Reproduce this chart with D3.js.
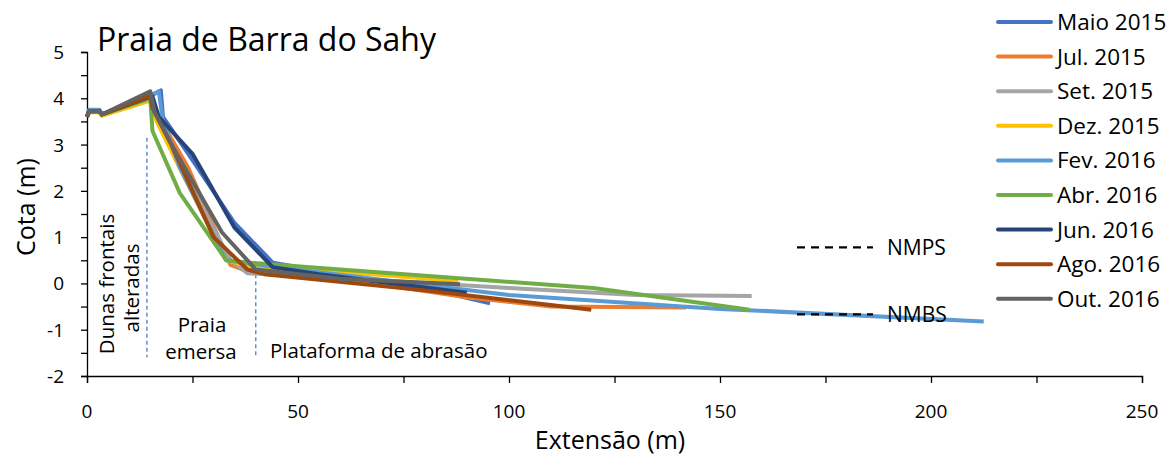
<!DOCTYPE html>
<html>
<head>
<meta charset="utf-8">
<script src="https://cdn.jsdelivr.net/npm/d3@7"></script>
<style>
  body { margin: 0; background: #fff; }
  svg text { font-family: "Open Sans", sans-serif; fill: #000; }
</style>
</head>
<body>
<div id="chart"></div>
<script>
// series names and colours
const seriesNames = ["Maio 2015", "Jul. 2015", "Set. 2015", "Dez. 2015", "Fev. 2016", "Abr. 2016", "Jun. 2016", "Ago. 2016", "Out. 2016"];
const seriesColors = ["#4472C4", "#ED7D31", "#A5A5A5", "#FFC000", "#5B9BD5", "#70AD47", "#264478", "#9E480E", "#636363"];

// profiles: [extensao, cota]
const maio2015 = [[0,3.6],[0.5,3.72],[3,3.72],[3.5,3.65],[16,4.1],[17.5,4.17],[18,3.6],[24,2.8],[35,1.3],[44,0.45],[60,0.2],[80,-0.1],[95.5,-0.43]];
const jul2015 = [[0,3.6],[0.5,3.72],[3,3.72],[3.5,3.65],[15,4.0],[17,3.6],[24,2.5],[34,0.4],[37,0.3],[60,0.1],[90,-0.3],[110,-0.5],[142,-0.52]];
const set2015 = [[0,3.6],[0.5,3.72],[3,3.72],[3.5,3.65],[15,4.0],[16.5,3.6],[23,2.4],[34,0.5],[38,0.22],[60,0.12],[100,-0.1],[130,-0.25],[157.5,-0.27]];
const dez2015 = [[0,3.6],[0.5,3.7],[3,3.7],[3.5,3.62],[15,3.95],[16.5,3.5],[23,2.3],[33,0.5],[40,0.35],[60,0.25],[88,0.05]];
const fev2016 = [[0,3.6],[0.5,3.75],[3,3.75],[3.5,3.65],[16,4.1],[17,4.15],[18,3.5],[22,2.5],[33,0.5],[45,0.35],[100,-0.25],[150,-0.55],[212.5,-0.82]];
const abr2016 = [[0,3.6],[0.5,3.72],[3,3.72],[3.5,3.65],[15,4.0],[15.5,3.3],[22,1.95],[33,0.5],[38,0.45],[60,0.3],[120,-0.1],[157,-0.57]];
const jun2016 = [[0,3.6],[0.5,3.72],[3,3.72],[3.5,3.65],[15.5,4.05],[17,3.6],[25,2.8],[35,1.2],[44,0.35],[55,0.2],[90,-0.2]];
const ago2016 = [[0,3.6],[0.5,3.72],[3,3.72],[3.5,3.65],[15,4.05],[15.5,3.8],[20,3.0],[30,1.0],[38,0.3],[42,0.2],[80,-0.15],[119.5,-0.57]];
const out2016 = [[0,3.6],[0.5,3.72],[3,3.72],[3.5,3.65],[15,4.15],[16,3.7],[20,3.0],[32,1.1],[40,0.3],[60,0.1],[88.4,-0.02]];
const seriesData = [maio2015, jul2015, set2015, dez2015, fev2016, abr2016, jun2016, ago2016, out2016];

// axis ticks
const xTicks = [0, 50, 100, 150, 200, 250];
const xMinorTicks = [0, 25, 50, 75, 100, 125, 150, 175, 200, 225, 250];
const yTicks = [-2, -1, 0, 1, 2, 3, 4, 5];
const yMinorTicks = [-2, -1.5, -1, -0.5, 0, 0.5, 1, 1.5, 2, 2.5, 3, 3.5, 4, 4.5, 5];

// zone boundaries and sea levels
const zoneLines = [14.2, 40];
const seaLevels = [{label: "NMPS", y: 0.78}, {label: "NMBS", y: -0.67}];

const width = 1173, height = 457;
const margin = {top: 52, right: 31, bottom: 81, left: 87};

const svg = d3.select('#chart')
    .append('svg')
    .attr('width', width)
    .attr('height', height);

const x = d3.scaleLinear().domain([0, 250]).range([margin.left, width - margin.right]);
const y = d3.scaleLinear().domain([-2, 5]).range([height - margin.bottom, margin.top]);

//Axes
const xAxis = svg.append('g')
    .attr('transform', `translate(0, ${y(-2)})`)
    .call(d3.axisBottom(x).tickValues(xMinorTicks).tickSize(7).tickFormat(''));
xAxis.select('.domain').attr('stroke', '#000').attr('stroke-width', 1.3);
xAxis.selectAll('line').attr('stroke', '#000').attr('stroke-width', 1.3);

svg.selectAll('.xlabel')
    .data(xTicks)
    .enter()
    .append('text')
    .attr('x', d => x(d))
    .attr('y', 418)
    .attr('text-anchor', 'middle')
    .style('font-size', '19px')
    .text(d => d);

const yAxis = svg.append('g')
    .attr('transform', `translate(${x(0)}, 0)`)
    .call(d3.axisLeft(y).tickValues(yMinorTicks).tickSize(6).tickFormat(''));
yAxis.select('.domain').attr('stroke', '#000').attr('stroke-width', 1.3);
yAxis.selectAll('line').attr('stroke', '#000').attr('stroke-width', 1.3);

svg.selectAll('.ylabel')
    .data(yTicks)
    .enter()
    .append('text')
    .attr('x', 64)
    .attr('y', d => y(d) + 7)
    .attr('text-anchor', 'end')
    .style('font-size', '19px')
    .text(d => d);

// axis titles
svg.append('text')
    .attr('transform', `translate(35, 207) rotate(-90)`)
    .attr('text-anchor', 'middle')
    .style('font-size', '25px')
    .text('Cota (m)');

svg.append('text')
    .attr('x', 610)
    .attr('y', 449)
    .attr('text-anchor', 'middle')
    .style('font-size', '25px')
    .text('Extensão (m)');

// title
svg.append('text')
    .attr('x', 97)
    .attr('y', 51)
    .style('font-size', '32px')
    .text('Praia de Barra do Sahy');

// zone lines
svg.selectAll('.zone')
    .data(zoneLines)
    .enter()
    .append('line')
    .attr('x1', d => x(d))
    .attr('x2', d => x(d))
    .attr('y1', (d, i) => i === 0 ? y(3.15) : y(0.2))
    .attr('y2', y(-1.6))
    .attr('stroke', '#4472C4')
    .attr('stroke-width', 1.2)
    .attr('stroke-dasharray', '4,3');

// zone labels
svg.append('text')
    .attr('transform', `translate(114, 284) rotate(-90)`)
    .attr('text-anchor', 'middle')
    .style('font-size', '20.5px')
    .text('Dunas frontais');
svg.append('text')
    .attr('transform', `translate(139, 288) rotate(-90)`)
    .attr('text-anchor', 'middle')
    .style('font-size', '20.5px')
    .text('alteradas');
svg.append('text')
    .attr('x', 202).attr('y', 332)
    .attr('text-anchor', 'middle')
    .style('font-size', '20.5px')
    .text('Praia');
svg.append('text')
    .attr('x', 201).attr('y', 359)
    .attr('text-anchor', 'middle')
    .style('font-size', '20.5px')
    .text('emersa');
svg.append('text')
    .attr('x', 270).attr('y', 358)
    .style('font-size', '20.5px')
    .text('Plataforma de abrasão');

// profiles
const line = d3.line()
    .x(d => x(d[0]))
    .y(d => y(d[1]));

svg.selectAll('.profile')
    .data(seriesData)
    .enter()
    .append('path')
    .attr('d', line)
    .attr('fill', 'none')
    .attr('stroke', (d, i) => seriesColors[i])
    .attr('stroke-width', 4)
    .attr('stroke-linejoin', 'round');

// sea level markers
const sea = svg.selectAll('.sea')
    .data(seaLevels)
    .enter()
    .append('g');
sea.append('line')
    .attr('x1', 797).attr('x2', 873)
    .attr('y1', d => y(d.y)).attr('y2', d => y(d.y))
    .attr('stroke', '#000')
    .attr('stroke-width', 2.2)
    .attr('stroke-dasharray', '8,6');
sea.append('text')
    .attr('x', 887)
    .attr('y', d => y(d.y) + 8)
    .style('font-size', '21px')
    .text(d => d.label);

//Legend
const legend = svg.selectAll('.legend')
    .data(seriesNames)
    .enter()
    .append('g')
    .attr('transform', (d, i) => `translate(0, ${22 + i * 34.6})`);
legend.append('line')
    .attr('x1', 998).attr('x2', 1051)
    .attr('y1', 0).attr('y2', 0)
    .attr('stroke', (d, i) => seriesColors[i])
    .attr('stroke-width', 4)
    .attr('stroke-linecap', 'round');
legend.append('text')
    .attr('x', 1057)
    .attr('y', 8)
    .style('font-size', '22.5px')
    .text(d => d);
</script>
</body>
</html>
